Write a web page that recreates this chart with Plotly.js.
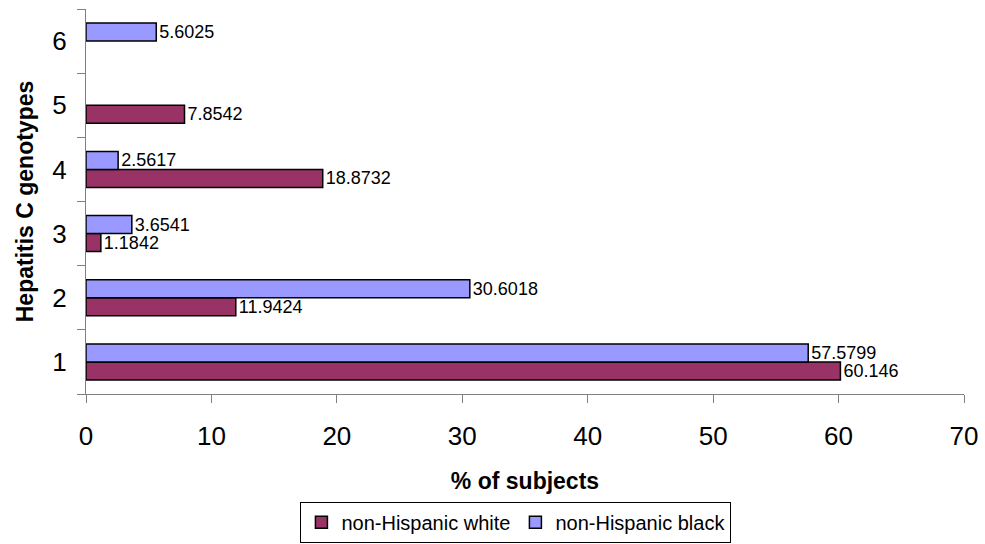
<!DOCTYPE html>
<html>
<head>
<meta charset="utf-8">
<script src="https://cdn.plot.ly/plotly-3.0.1.min.js"></script>
<style>html,body{margin:0;padding:0;background:#fff;}#chart{width:985px;height:544px;}</style>
</head>
<body>
<div id="chart"></div>
<script>
const genotypes = ["1", "2", "3", "4", "5", "6"];
const whiteValues = [60.146, 11.9424, 1.1842, 18.8732, 7.8542, null];
const blackValues = [57.5799, 30.6018, 3.6541, 2.5617, null, 5.6025];
const seriesNames = ["non-Hispanic white", "non-Hispanic black"];
const xTicks = [0, 10, 20, 30, 40, 50, 60, 70];

const FONT = "Arial, 'Liberation Sans', sans-serif";
const lbl = v => (v === null ? "" : String(v));

const traces = [
  {
    type: "bar", orientation: "h", name: seriesNames[0],
    y: genotypes, x: whiteValues, text: whiteValues.map(lbl),
    textposition: "outside", constraintext: "none", cliponaxis: false,
    textfont: {family: FONT, size: 18, color: "#000"},
    marker: {color: "#993366", line: {color: "#000", width: 1.5}},
    hoverinfo: "x+name"
  },
  {
    type: "bar", orientation: "h", name: seriesNames[1],
    y: genotypes, x: blackValues, text: blackValues.map(lbl),
    textposition: "outside", constraintext: "none", cliponaxis: false,
    textfont: {family: FONT, size: 18, color: "#000"},
    marker: {color: "#9999FF", line: {color: "#000", width: 1.5}},
    hoverinfo: "x+name"
  }
];

const layout = {
  width: 985, height: 544,
  margin: {l: 86, r: 21, t: 9, b: 150},
  paper_bgcolor: "#fff", plot_bgcolor: "#fff",
  font: {family: FONT, color: "#000"},
  barmode: "group", bargap: 0.44, bargroupgap: 0,
  showlegend: true,
  legend: {
    orientation: "h", xref: "container", x: 0.305, xanchor: "left",
    yref: "container", y: 0.0775, yanchor: "top",
    bordercolor: "#000", borderwidth: 1, bgcolor: "#fff",
    font: {family: FONT, size: 20, color: "#000"},
    traceorder: "normal"
  },
  xaxis: {
    range: [0, 70], tickvals: xTicks, ticktext: xTicks.map(String),
    automargin: false,
    showgrid: false, zeroline: false, showline: true, linecolor: "#808080", linewidth: 1,
    ticks: "outside", ticklen: 8, tickcolor: "#808080",
    tickfont: {family: FONT, size: 26, color: "#000"}, ticklabelstandoff: 11,
    title: {text: "% of subjects", font: {family: FONT, size: 23, color: "#000", weight: "bold"}, standoff: 22},
    fixedrange: true
  },
  yaxis: {
    type: "category", categoryorder: "array", categoryarray: genotypes,
    range: [-0.5, 5.5], automargin: false,
    showgrid: false, zeroline: false, showline: true, linecolor: "#808080", linewidth: 1,
    ticks: "outside", ticklen: 8, tickcolor: "#808080", tickson: "boundaries",
    tickfont: {family: FONT, size: 26, color: "#000"}, ticklabelstandoff: 13,
    title: {text: "Hepatitis C genotypes", font: {family: FONT, size: 23, color: "#000", weight: "bold"}, standoff: 12},
    fixedrange: true
  }
};

Plotly.newPlot("chart", traces, layout, {displayModeBar: false, staticPlot: false});
</script>
</body>
</html>
